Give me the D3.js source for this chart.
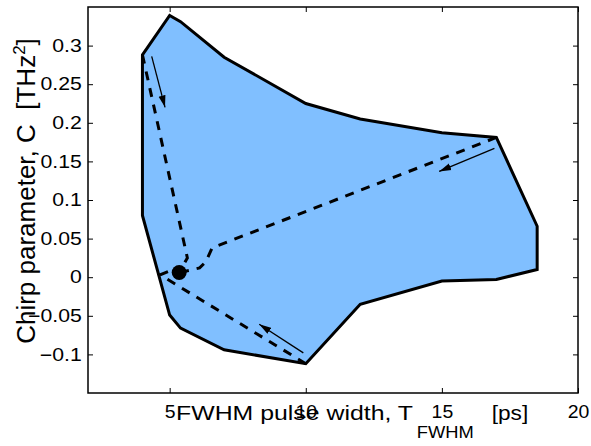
<!DOCTYPE html>
<html>
<head>
<meta charset="utf-8">
<script src="https://cdn.jsdelivr.net/npm/d3@7/dist/d3.min.js"></script>
<style>
  body { margin: 0; background: #fff; }
  svg { display: block; }
  text { font-family: "Liberation Sans", Arial, Helvetica, sans-serif; fill: #000; }
</style>
</head>
<body>
<svg id="chart" width="591" height="446"></svg>
<script>
// Boundary of the reachable region (FWHM width in ps, chirp in THz^2)
const boundaryWidth = [4.0, 5.0, 5.4, 7.0, 10.0, 12.0, 15.0, 17.0, 18.5, 18.5, 17.0, 15.0, 12.0, 10.0, 7.0, 5.4, 5.0, 4.0];
const boundaryChirp = [0.288, 0.339, 0.331, 0.285, 0.225, 0.205, 0.187, 0.181, 0.066, 0.010, -0.003, -0.005, -0.035, -0.112, -0.094, -0.066, -0.049, 0.080];

// Dashed trajectories converging on the target pulse
const pathTopWidth = [4.0, 5.65, 5.35];
const pathTopChirp = [0.288, 0.025, 0.006];
const pathRightWidth = [17.0, 6.56, 6.33, 6.1, 5.75, 5.35];
const pathRightChirp = [0.181, 0.038, 0.020, 0.012, 0.009, 0.006];
const pathBottomWidth = [10.0, 4.65, 5.0, 5.35];
const pathBottomChirp = [-0.112, 0.003, 0.008, 0.006];

// Target pulse
const targetWidth = [5.35];
const targetChirp = [0.006];

// Direction arrows
const arrowFromWidth = [4.34, 16.93, 9.91];
const arrowFromChirp = [0.286, 0.167, -0.098];
const arrowToWidth = [4.83, 14.9, 8.29];
const arrowToChirp = [0.220, 0.137, -0.061];

// Axis ticks
const xTicks = [5, 10, 15, 20];
const xTickLabels = ["5", "10", "15", "20"];
const yTicks = [-0.1, -0.05, 0, 0.05, 0.1, 0.15, 0.2, 0.25, 0.3];
const yTickLabels = ["\u22120.1", "\u22120.05", "0", "0.05", "0.1", "0.15", "0.2", "0.25", "0.3"];

const plotLeft = 88, plotRight = 578, plotTop = 7, plotBottom = 393;
const x = d3.scaleLinear().domain([2, 20]).range([plotLeft, plotRight]);
const y = d3.scaleLinear().domain([-0.15, 0.35]).range([plotBottom, plotTop]);

const svg = d3.select("#chart");

svg.append("defs").append("marker")
  .attr("id", "head")
  .attr("markerUnits", "userSpaceOnUse")
  .attr("markerWidth", 13).attr("markerHeight", 8)
  .attr("refX", 12).attr("refY", 4)
  .attr("orient", "auto")
  .append("path").attr("d", "M0,0.5 L12,4 L0,7.5 Z").attr("fill", "#000");

const line = d3.line().x(d => x(d[0])).y(d => y(d[1]));
const pts = (xs, ys) => xs.map((v, i) => [v, ys[i]]);

// Region
svg.append("path")
  .attr("d", line(pts(boundaryWidth, boundaryChirp)) + "Z")
  .attr("fill", "#80bfff")
  .attr("stroke", "#000")
  .attr("stroke-width", 3)
  .attr("stroke-linejoin", "miter");

// Trajectories
[[pathTopWidth, pathTopChirp], [pathRightWidth, pathRightChirp], [pathBottomWidth, pathBottomChirp]]
  .forEach(([xs, ys]) => {
    svg.append("path")
      .attr("d", line(pts(xs, ys)))
      .attr("fill", "none")
      .attr("stroke", "#000")
      .attr("stroke-width", 3)
      .attr("stroke-dasharray", "9,8");
  });

// Arrows
arrowFromWidth.forEach((w, i) => {
  svg.append("line")
    .attr("x1", x(w)).attr("y1", y(arrowFromChirp[i]))
    .attr("x2", x(arrowToWidth[i])).attr("y2", y(arrowToChirp[i]))
    .attr("stroke", "#000").attr("stroke-width", 1.3)
    .attr("marker-end", "url(#head)");
});

// Target point
svg.selectAll("circle.target")
  .data(pts(targetWidth, targetChirp))
  .join("circle")
  .attr("class", "target")
  .attr("cx", d => x(d[0])).attr("cy", d => y(d[1]))
  .attr("r", 7.5).attr("fill", "#000");

// Axes box and inward ticks
const styleAxis = g => {
  g.select(".domain").remove();
  g.selectAll(".tick line").attr("stroke", "#000").attr("stroke-width", 1);
  g.attr("font-family", null).attr("font-size", null);
};

svg.append("g").attr("transform", `translate(0,${plotBottom})`)
  .call(d3.axisBottom(x).tickValues(xTicks).tickSizeInner(-5).tickSizeOuter(0).tickPadding(12)
    .tickFormat((d, i) => xTickLabels[i]))
  .call(styleAxis)
  .selectAll("text").attr("font-size", 18).attr("fill", "#000").attr("transform", "scale(1.08,1)");

svg.append("g").attr("transform", `translate(0,${plotTop})`)
  .call(d3.axisTop(x).tickValues(xTicks).tickSizeInner(-5).tickSizeOuter(0).tickFormat(""))
  .call(styleAxis);

svg.append("g").attr("transform", `translate(${plotLeft},0)`)
  .call(d3.axisLeft(y).tickValues(yTicks).tickSizeInner(-5).tickSizeOuter(0).tickPadding(5.3)
    .tickFormat((d, i) => yTickLabels[i]))
  .call(styleAxis)
  .selectAll("text").attr("font-size", 18).attr("fill", "#000").attr("transform", "scale(1.18,1)");

svg.append("g").attr("transform", `translate(${plotRight},0)`)
  .call(d3.axisRight(y).tickValues(yTicks).tickSizeInner(-5).tickSizeOuter(0).tickFormat(""))
  .call(styleAxis);

svg.append("rect")
  .attr("x", plotLeft).attr("y", plotTop)
  .attr("width", plotRight - plotLeft).attr("height", plotBottom - plotTop)
  .attr("fill", "none").attr("stroke", "#000").attr("stroke-width", 1.5);

// Axis titles
const xTitle = svg.append("g");
xTitle.append("text").attr("x", 176).attr("y", 420).attr("font-size", 21)
  .attr("textLength", 237).attr("lengthAdjust", "spacingAndGlyphs")
  .text("FWHM pulse width, T");
xTitle.append("text").attr("x", 416.7).attr("y", 438).attr("font-size", 17)
  .attr("textLength", 57).attr("lengthAdjust", "spacingAndGlyphs")
  .text("FWHM");
xTitle.append("text").attr("x", 491.7).attr("y", 420).attr("font-size", 21)
  .attr("textLength", 36.5).attr("lengthAdjust", "spacingAndGlyphs")
  .text("[ps]");

const yTitle = svg.append("text")
  .attr("transform", "translate(35,191) rotate(-90)")
  .attr("text-anchor", "middle")
  .attr("font-size", 26);
yTitle.append("tspan").text("Chirp parameter, C\u00a0\u00a0[THz");
yTitle.append("tspan").attr("font-size", 17).attr("dy", -10).text("2");
yTitle.append("tspan").attr("dy", 10).text("]");
</script>
</body>
</html>
